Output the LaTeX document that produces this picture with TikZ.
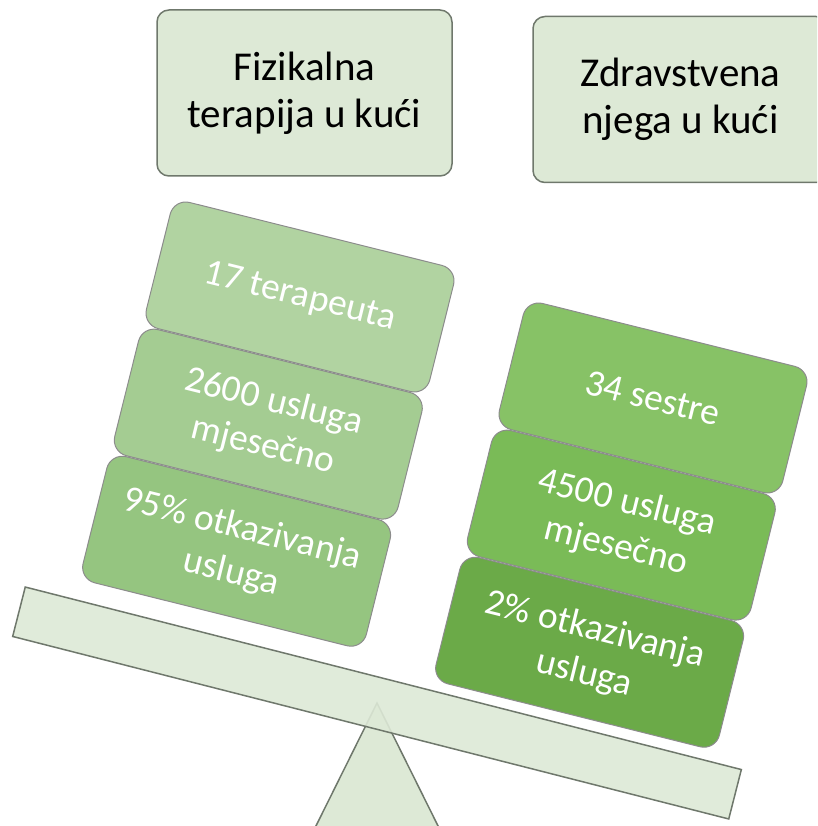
\documentclass[tikz,border=0pt]{standalone}
\usepackage{fontspec}
\setmainfont{Carlito}
\usetikzlibrary{positioning}

\definecolor{palegreen}{HTML}{DDE9D6}
\definecolor{edgegray}{HTML}{6F786C}
\definecolor{leftA}{HTML}{B1D3A1}
\definecolor{leftB}{HTML}{A4CC92}
\definecolor{leftC}{HTML}{95C580}
\definecolor{rightA}{HTML}{87C266}
\definecolor{rightB}{HTML}{7ABB57}
\definecolor{rightC}{HTML}{6BAA48}

\tikzset{
  headbox/.style={draw=edgegray, line width=1.5pt, fill=palegreen, rounded corners=12pt,
    minimum width=295pt, minimum height=166pt, inner sep=0pt, align=center,
    font=\fontsize{41}{47}\selectfont},
  weight/.style={draw=black!45, line width=1pt, rounded corners=16pt, rotate=-14,
    minimum width=292pt, minimum height=130pt, inner sep=0pt, align=center,
    text=white, font=\fontsize{37.5}{45}\selectfont},
  plank/.style={draw=edgegray, line width=1.5pt, fill=palegreen, fill opacity=.9,
    rotate=-14.3, minimum width=739pt, minimum height=51pt, inner sep=0pt},
  fulcrum/.style={draw=edgegray, line width=1.5pt, fill=palegreen}
}

\begin{document}
\begin{tikzpicture}[x=1pt,y=-1pt]
  \useasboundingbox (0,0) rectangle (817,826);
  \clip (0,0) rectangle (817,826);
  % seesaw
  \coordinate (pivot) at (377,703);
  \draw[fulcrum] (pivot) -- (309,840) -- (445,840) -- cycle;
  \node[plank] (beam) at (pivot) {};
  % left weights
  \node[weight, fill=leftA] (ft1) at (300,297) {17 terapeuta};
  \node[weight, fill=leftB, below=0pt of ft1] (ft2) {2600 usluga\\mjesečno};
  \node[weight, fill=leftC, below=0pt of ft2] (ft3) {95\% otkazivanja\\usluga};
  % right weights
  \node[weight, fill=rightA] (zn1) at (653,398) {34 sestre};
  \node[weight, fill=rightB, below=0pt of zn1] (zn2) {4500 usluga\\mjesečno};
  \node[weight, fill=rightC, below=0pt of zn2] (zn3) {2\% otkazivanja\\usluga};
  % headings
  \node[headbox] (fiz) at (304.5,93) {Fizikalna\\terapija u kući};
  \node[headbox] (zdr) at (680.5,99.5) {Zdravstvena\\njega u kući};
\end{tikzpicture}
\end{document}
